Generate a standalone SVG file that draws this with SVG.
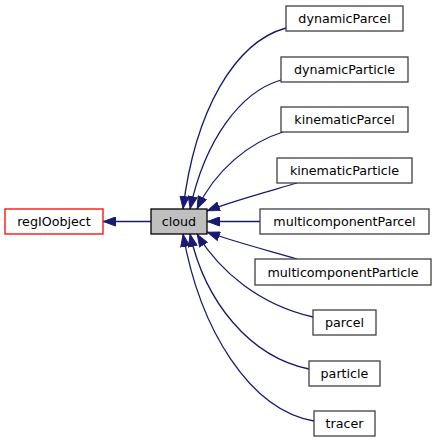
<svg xmlns="http://www.w3.org/2000/svg" width="439" height="443" viewBox="0 0 439 443">
<style>
.box{fill:#ffffff;stroke:#404040;stroke-width:1.3}
.root{fill:#ffffff;stroke:#ff0000;stroke-width:1.3}
.cur{fill:#bfbfbf;stroke:#000000;stroke-width:1.3}
.lbl{font-family:"DejaVu Sans",sans-serif;font-size:12.7px;fill:#000000;text-anchor:middle}
.edge{fill:none;stroke:#191970;stroke-width:1.3;marker-end:url(#ah)}
</style>
<defs>
<marker id="ah" viewBox="0 0 13 10" refX="13" refY="5" markerWidth="13" markerHeight="10" markerUnits="userSpaceOnUse" orient="auto">
<path d="M0.5,0.5 L12.5,5 L0.5,9.5 z" fill="#191970" stroke="#191970" stroke-width="1"/>
</marker>
</defs>
<g id="connectors">
<path class="edge" d="M151,221.5 L103,221.5"/>
<path class="edge" d="M286,28 C235,42 195,110 183,209"/>
<path class="edge" d="M281,80 C240,92 205,140 190,209"/>
<path class="edge" d="M283,132 C250,142 215,170 197,209"/>
<path class="edge" d="M297,183 C270,191 235,200 207,211"/>
<path class="edge" d="M260,221.5 L207,221.5"/>
<path class="edge" d="M297,259 C270,251 235,242 207,232"/>
<path class="edge" d="M313,317 C260,305 220,272 197,234"/>
<path class="edge" d="M309,369 C250,357 205,302 190,234"/>
<path class="edge" d="M314,421 C250,410 200,330 183,234"/>
</g>
<g id="regIOobject"><rect class="root" x="5" y="209" width="98" height="25"/><text class="lbl" x="54" y="226">regIOobject</text></g>
<g id="cloud"><rect class="cur" x="151" y="209" width="56" height="25"/><text class="lbl" x="179" y="226">cloud</text></g>
<g id="dynamicParcel"><rect class="box" x="286" y="6" width="117" height="25"/><text class="lbl" x="344.5" y="23">dynamicParcel</text></g>
<g id="dynamicParticle"><rect class="box" x="281" y="57" width="127" height="25"/><text class="lbl" x="344.5" y="74">dynamicParticle</text></g>
<g id="kinematicParcel"><rect class="box" x="281" y="107" width="127" height="25"/><text class="lbl" x="344.5" y="124">kinematicParcel</text></g>
<g id="kinematicParticle"><rect class="box" x="277" y="158" width="135" height="25"/><text class="lbl" x="344.5" y="175">kinematicParticle</text></g>
<g id="multicomponentParcel"><rect class="box" x="260" y="209" width="169" height="25"/><text class="lbl" x="344.5" y="226">multicomponentParcel</text></g>
<g id="multicomponentParticle"><rect class="box" x="255" y="259" width="176" height="26"/><text class="lbl" x="343" y="276.5">multicomponentParticle</text></g>
<g id="parcel"><rect class="box" x="313" y="310" width="63" height="25"/><text class="lbl" x="344.5" y="327">parcel</text></g>
<g id="particle"><rect class="box" x="309" y="361" width="71" height="25"/><text class="lbl" x="344.5" y="378">particle</text></g>
<g id="tracer"><rect class="box" x="314" y="411" width="61" height="25"/><text class="lbl" x="344.5" y="428">tracer</text></g>
</svg>
